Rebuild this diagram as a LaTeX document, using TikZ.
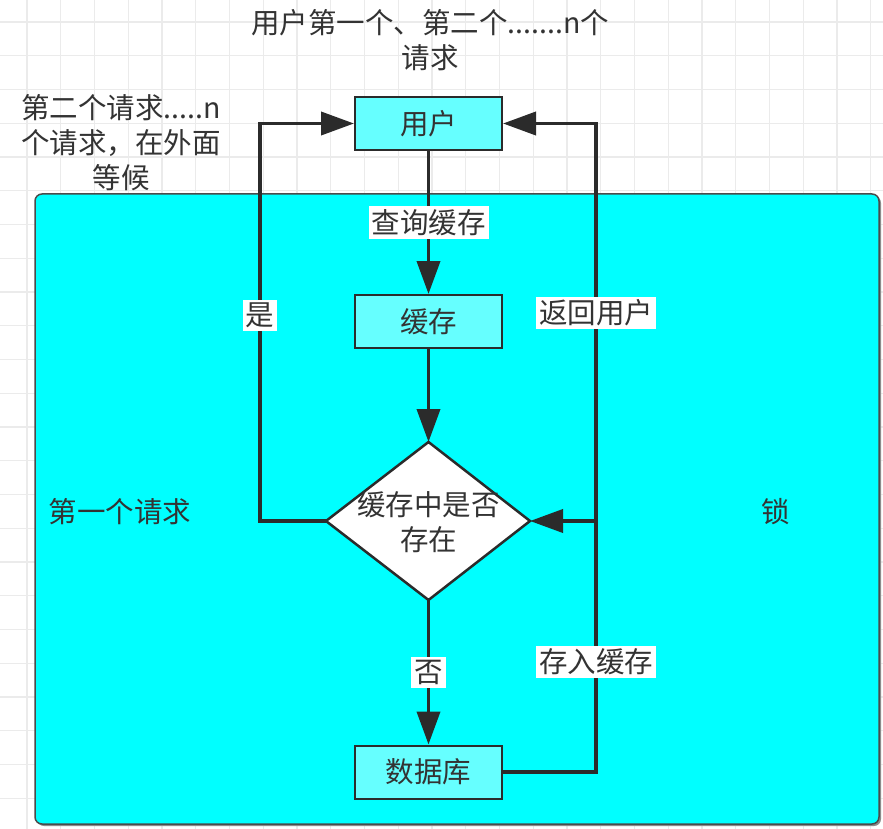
\documentclass[tikz,border=0pt]{standalone}
\usepackage{fontspec}
\setmainfont{Noto Sans CJK SC}
\usetikzlibrary{arrows.meta}
\definecolor{cyanbg}{HTML}{00FFFF}
\definecolor{boxfill}{HTML}{66FFFF}
\definecolor{ln}{HTML}{2B2B2B}
\definecolor{txt}{HTML}{333333}
\definecolor{gridc}{HTML}{EBEBEB}
\begin{document}
\begin{tikzpicture}[x=1pt,y=-1pt,
  font=\fontsize{28.5}{35}\selectfont,
  proc/.style={rectangle, draw=ln, fill=boxfill, line width=2pt, minimum width=147pt, minimum height=53pt, text=txt, inner sep=0pt},
  conn/.style={draw=ln, line width=3.8pt, -{Triangle[length=33pt,width=23pt]}},
  lbl/.style={fill=white, text=txt, inner sep=3pt},
  note/.style={text=txt, align=center, inner sep=0pt}]
\useasboundingbox (0,0) rectangle (883,829);
\fill[white] (0,0) rectangle (883,829);
\foreach \i in {0,...,25} \draw[gridc, line width=1.2pt] ({27+33.75*\i},0) -- ({27+33.75*\i},829);
\foreach \i in {0,...,23} \draw[gridc, line width=1.2pt] (0,{22+33.75*\i}) -- (883,{22+33.75*\i});
% container
\fill[black!45, rounded corners=7pt] (37,196) rectangle (881,826);
\draw[fill=cyanbg, draw=ln!85, line width=1.5pt, rounded corners=7pt] (35,194) rectangle (879,824);
% texts
\node[note] (ttop) at (430,40) {用户第一个、第二个.......n个\\请求};
\node[note] (tleft) at (121,143) {第二个请求.....n\\个请求，在外面\\等候};
\node[note] (tfirst) at (120,512) {第一个请求};
\node[note] (tlock) at (776,512) {锁};
% nodes
\node[proc] (user) at (428.5,123.5) {用户};
\node[proc] (cache) at (428.5,321.5) {缓存};
\node[proc] (db) at (428.5,772) {数据库};
\coordinate (dtop) at (428.5,442);
\coordinate (dright) at (530,521);
\coordinate (dbot) at (428.5,600);
\coordinate (dleft) at (326,521);
\draw[fill=white, draw=ln, line width=2.5pt, line join=miter] (dtop) -- (dright) -- (dbot) -- (dleft) -- cycle;
\node[note] (dq) at (428.5,522) {缓存中是否\\存在};
% connectors
\draw[conn] (user.south) -- node[lbl] {查询缓存} (cache.north);
\draw[conn] (cache.south) -- (dtop);
\draw[conn] (dbot) -- node[lbl] {否} (db.north);
\coordinate (lx) at (260,521);
\draw[conn] (dleft) -- (lx) |- node[lbl, pos=0.259] {是} (user.west);
\coordinate (rb) at (596,772);
\coordinate (rj) at (596,521);
\draw[conn] (db.east) -- (rb) |- node[lbl, pos=0.085] {存入缓存} node[lbl, pos=0.354] {返回用户} (user.east);
\draw[conn] (rj) -- (dright);
\end{tikzpicture}
\end{document}
